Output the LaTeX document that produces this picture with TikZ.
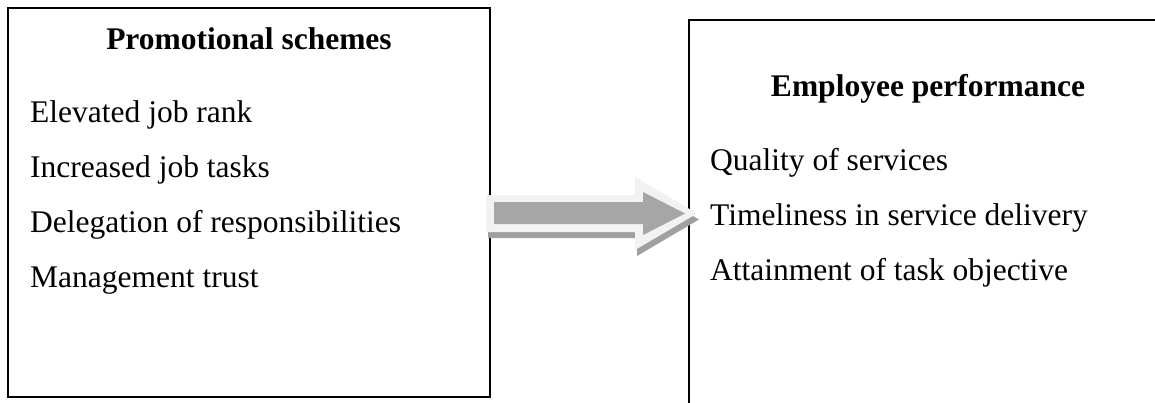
\documentclass[tikz,border=0pt]{standalone}
\usepackage{fontspec}
\setmainfont{Liberation Serif}
\begin{document}
\begin{tikzpicture}[x=1pt,y=-1pt,
  boxstyle/.style={draw=black, line width=2pt, fill=white, inner sep=0pt},
  headtext/.style={font=\fontsize{31.5}{36}\selectfont\bfseries, anchor=base, inner sep=0pt},
  itemtext/.style={font=\fontsize{31.5}{36}\selectfont, anchor=base west, inner sep=0pt},
  arrowouter/.style={fill=arrowlight},
  arrowinner/.style={fill=arrowdark},
  arrowshadow/.style={fill=arrowshade}]
\definecolor{arrowlight}{HTML}{F2F2F2}
\definecolor{arrowdark}{HTML}{A6A6A6}
\definecolor{arrowshade}{HTML}{A0A0A0}
\useasboundingbox (0,0) rectangle (1155,402);
\clip (0,0) rectangle (1155,402);
% boxes
\node[boxstyle, minimum width=482pt, minimum height=389pt] (left) at (249,202.5) {};
\node[boxstyle, minimum width=478pt, minimum height=400pt] (right) at (928,220) {};
% left texts
\node[headtext] (lh) at (249,49) {Promotional schemes};
\node[itemtext] (l1) at (30,122) {Elevated job rank};
\node[itemtext] (l2) at (30,177) {Increased job tasks};
\node[itemtext] (l3) at (30,232) {Delegation of responsibilities};
\node[itemtext] (l4) at (30,287) {Management trust};
% right texts
\node[headtext] (rh) at (928,96) {Employee performance};
\node[itemtext] (r1) at (710,170) {Quality of services};
\node[itemtext] (r2) at (710,225) {Timeliness in service delivery};
\node[itemtext] (r3) at (710,280) {Attainment of task objective};
% block arrow
\coordinate (as) at (486,213.5);
\coordinate (at) at (697,213.5);
\fill[arrowshadow] ([shift={(2,6)}]as) ++(0,-18.5) -- ++(149,0) -- ++(0,-18) -- ([shift={(2,6)}]at) -- ++(-62,36.5) -- ++(0,-18) -- ++(-149,0) -- cycle;
\fill[arrowouter] (as) ++(0,-18.5) -- ++(149,0) -- ++(0,-18) -- (at) -- ++(-62,36.5) -- ++(0,-18) -- ++(-149,0) -- cycle;
\fill[arrowinner] (494,202) -- (643,202) -- (643,192) -- (685,213.5) -- (643,235) -- (643,224) -- (494,224) -- cycle;
\end{tikzpicture}
\end{document}
